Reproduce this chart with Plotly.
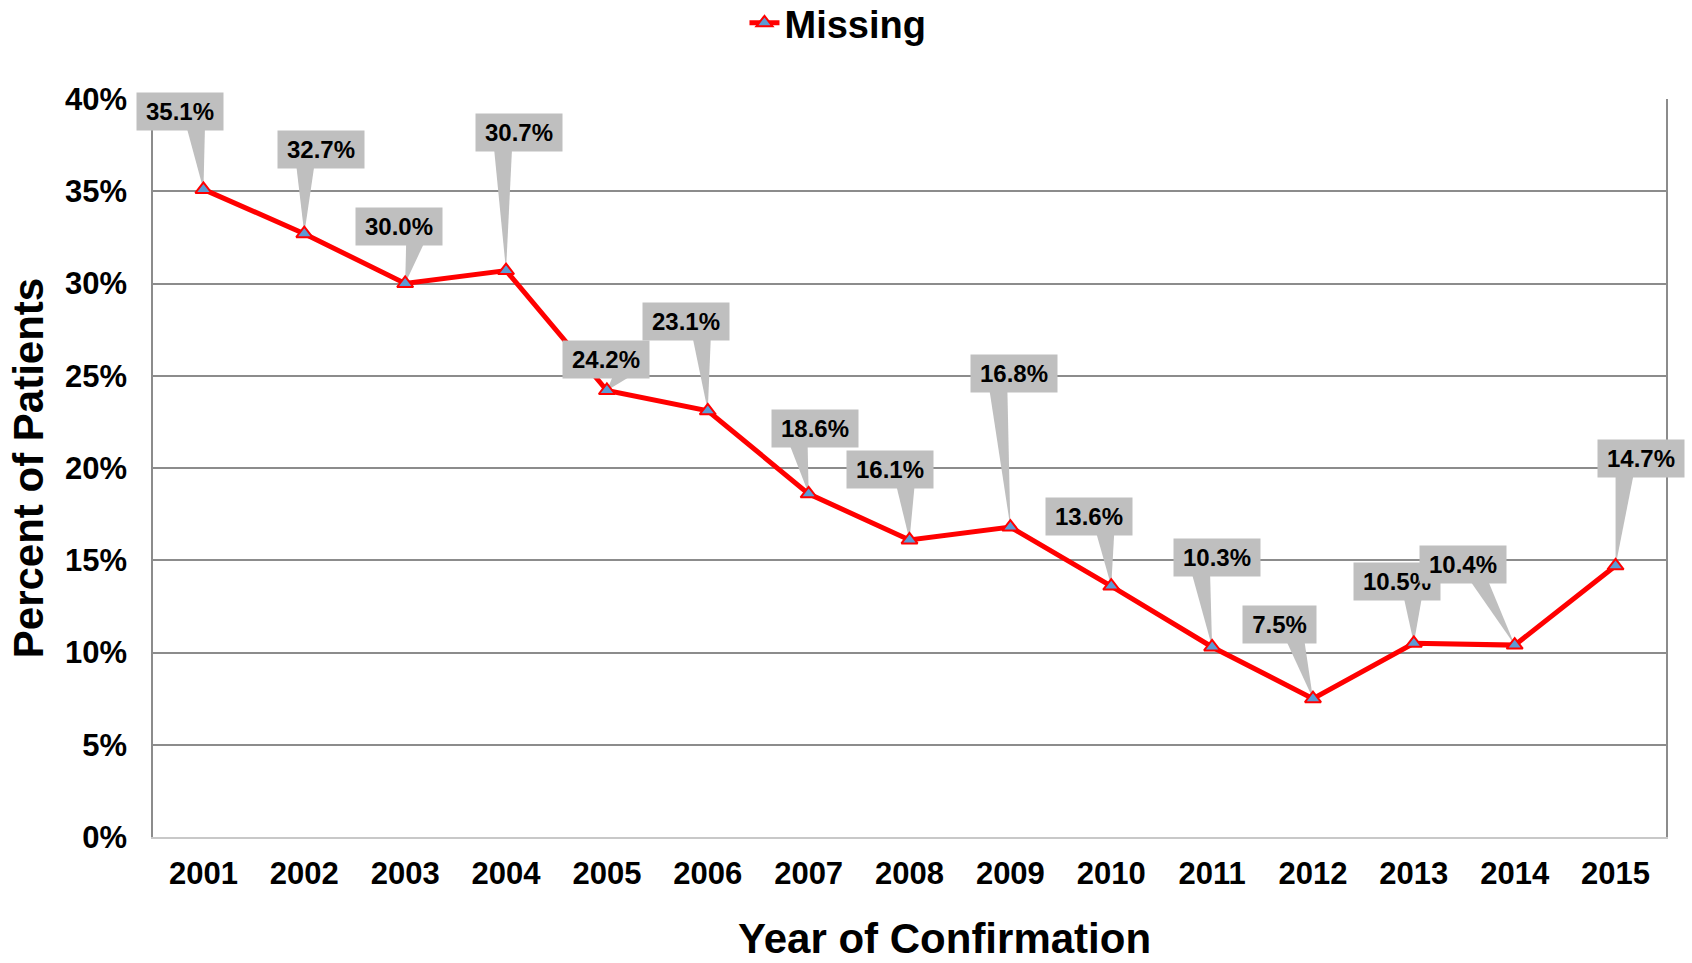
import plotly.graph_objects as go

# data
years = [2001, 2002, 2003, 2004, 2005, 2006, 2007, 2008, 2009, 2010, 2011, 2012, 2013, 2014, 2015]
missing = [35.1, 32.7, 30.0, 30.7, 24.2, 23.1, 18.6, 16.1, 16.8, 13.6, 10.3, 7.5, 10.5, 10.4, 14.7]
y_ticks = [0, 5, 10, 15, 20, 25, 30, 35, 40]

# callout box offsets from each point, in pixels (dx right, dy up)
label_dx = [-23.5, 17, -6, 13, -1, -22, 6, -20, 4, -22, 5, -33.5, -17, -51.5, 25]
label_dy = [77.5, 84.5, 57, 138.5, 31, 89, 65.5, 70, 154, 69.5, 89, 74, 62, 80.5, 107.5]

FONT = "Arial, Liberation Sans, sans-serif"
BOX_GRAY = "#BFBFBF"
BOX_H = 37

fig = go.Figure()

fig.add_trace(
    go.Scatter(
        x=years,
        y=missing,
        mode='lines+markers',
        name='<b>Missing</b>',
        line=dict(color='#FF0000', width=5),
        marker=dict(symbol='triangle-up', size=14, color='#5B9BD5',
                    line=dict(color='#FF0000', width=2)),
    )
)

# callouts: gray box (annotation) plus a wedge pointing at the point (shape)
for yr, val, dx, dy in zip(years, missing, label_dx, label_dy):
    text = f'{val:.1f}%'
    w = 86 if len(text) > 4 else 73
    fig.add_annotation(
        x=yr, y=val, xref='x', yref='y',
        text=f'<b>{text}</b>',
        showarrow=False,
        xshift=dx, yshift=dy,
        width=w, height=BOX_H, borderpad=0,
        bgcolor=BOX_GRAY,
        font=dict(family=FONT, size=24, color='black'),
    )
    # wedge base sits on the box bottom, toward the point side
    side = 1 if -dx >= 0 else -1
    base_c = dx + side * 16
    bottom = dy - BOX_H / 2 + 2
    path = f'M {base_c - 9},{bottom} L 0,0 L {base_c + 9},{bottom} Z'
    fig.add_shape(
        type='path', path=path,
        xsizemode='pixel', ysizemode='pixel',
        xanchor=yr, yanchor=val, xref='x', yref='y',
        fillcolor=BOX_GRAY, line=dict(width=0),
        layer='between',
    )

# x axis title sits a little right of the plot centre, so place it by hand
fig.add_annotation(
    x=0.523, y=-0.137, xref='paper', yref='paper',
    xanchor='center', yanchor='middle',
    text='<b>Year of Confirmation</b>',
    showarrow=False,
    font=dict(family=FONT, size=42, color='black'),
)

fig.update_layout(
    width=1692,
    height=963,
    margin=dict(l=153, r=26, t=99, b=126),
    plot_bgcolor='white',
    paper_bgcolor='white',
    font=dict(family=FONT, color='black'),
    showlegend=True,
    legend=dict(
        orientation='h',
        xref='container', x=0.44, xanchor='left',
        yref='container', y=0.976, yanchor='middle',
        font=dict(family=FONT, size=38, color='black'),
        bgcolor='rgba(0,0,0,0)',
    ),
    xaxis=dict(
        range=[2000.5, 2015.5],
        tickvals=years,
        ticktext=[f'<b>{y}</b>' for y in years],
        tickfont=dict(family=FONT, size=31, color='black'),
        showgrid=False,
        zeroline=False,
        showline=True,
        linecolor='#C8C8C8',
        linewidth=2,
        ticks='',
        ticklabelstandoff=8,
        automargin=False,
    ),
    yaxis=dict(
        range=[0, 40],
        tickvals=y_ticks,
        ticktext=[f'<b>{v}%</b>' for v in y_ticks],
        tickfont=dict(family=FONT, size=31, color='black'),
        showgrid=True,
        gridcolor='#8C8C8C',
        gridwidth=1.5,
        zeroline=False,
        showline=True,
        mirror=True,
        linecolor='#8C8C8C',
        linewidth=1.5,
        ticks='',
        ticklabelstandoff=18,
        automargin=False,
        title=dict(text='<b>Percent of Patients</b>',
                   font=dict(family=FONT, size=42, color='black'),
                   standoff=8),
    ),
)

# drop the default page margin so the figure fills the window exactly
fig.write_html("out.html", config={'displayModeBar': False},
               post_script="document.body.style.margin='0';")
